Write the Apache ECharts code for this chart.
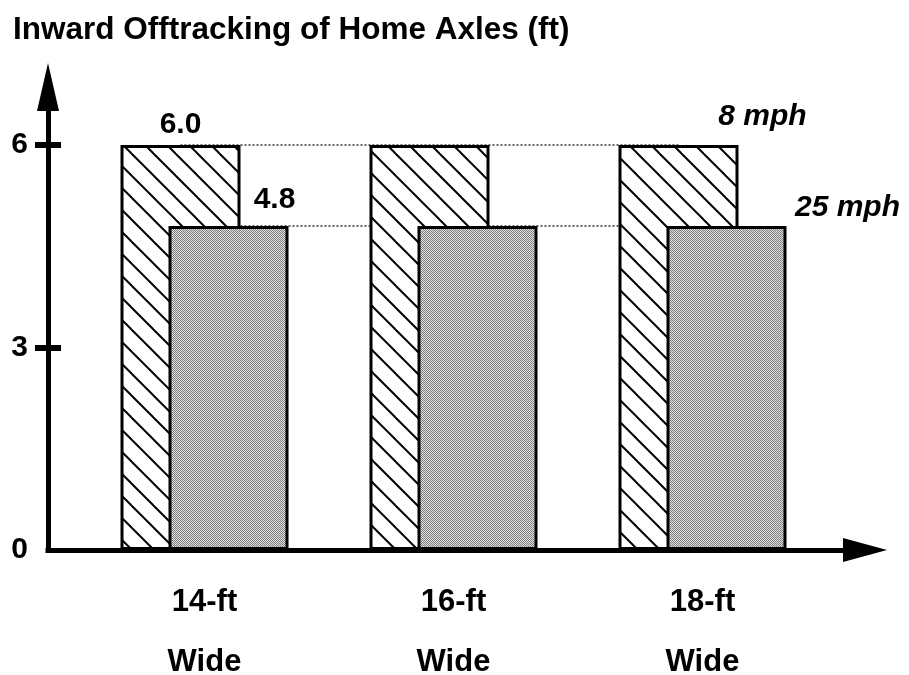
<!DOCTYPE html>
<html><head><meta charset="utf-8">
<script src="https://cdn.jsdelivr.net/npm/echarts@6/dist/echarts.min.js"></script>
<style>html,body{margin:0;padding:0;background:#fff}#c{width:909px;height:675px}</style>
</head><body><div id="c"></div>
<script>
const titleText = 'Inward Offtracking of Home Axles (ft)';
const categories = ['14-ft\nWide', '16-ft\nWide', '18-ft\nWide'];
const seriesNames = ['8 mph', '25 mph'];
const eightMph = [6.0, 6.0, 6.0];
const twentyFiveMph = [4.8, 4.8, 4.8];
const yTickLabels = [0, 3, 6];

const FF = '"Liberation Sans", Arial, Helvetica, sans-serif';

function hatchPattern() {
  const c = document.createElement('canvas');
  c.width = 22; c.height = 22;
  const g = c.getContext('2d');
  g.fillStyle = '#fff'; g.fillRect(0, 0, 22, 22);
  g.strokeStyle = '#000'; g.lineWidth = 2;
  for (const k of [-22, 0, 22]) {
    g.beginPath(); g.moveTo(k - 3, -3); g.lineTo(k + 25, 25); g.stroke();
  }
  return c;
}
function stipplePattern() {
  const c = document.createElement('canvas');
  c.width = 4; c.height = 4;
  const g = c.getContext('2d');
  for (let y = 0; y < 4; y++) for (let x = 0; x < 4; x++) {
    g.fillStyle = ((x + y) % 2) ? '#e2e2e2' : '#7c7c7c';
    g.fillRect(x, y, 1, 1);
  }
  return c;
}

const txt = { fontFamily: FF, fontWeight: 'bold', color: '#000' };

function labelsFor(seriesIdx) {
  return function (v, i) {
    let label = { show: false };
    if (i === 0) {
      label = Object.assign({ show: true, position: 'top', fontSize: 30,
        formatter: p => Number(p.value).toFixed(1) }, txt,
        seriesIdx === 0 ? { distance: 5 } : { distance: 11, offset: [46, 0] });
    } else if (i === categories.length - 1) {
      label = Object.assign({ show: true, position: 'top', fontSize: 30, fontStyle: 'italic',
        formatter: p => p.seriesName }, txt,
        seriesIdx === 0 ? { distance: 13, offset: [84, 0] } : { distance: 3, offset: [121, 0] });
    }
    return { value: v, label: label };
  };
}

const axisLineStyle = { color: '#000', width: 5, cap: 'square' };
const tickStyle = { color: '#000', width: 6 };
const gridBase = { top: 77.5, bottom: 125, containLabel: false, outerBoundsMode: 'none' };

const chart = echarts.init(document.getElementById('c'), null, { renderer: 'canvas' });
chart.setOption({
  animation: false,
  backgroundColor: '#fff',
  title: { text: titleText, left: 8, top: 9, textStyle: Object.assign({ fontSize: 31.5 }, txt) },
  grid: [
    Object.assign({ left: 80, right: 82 }, gridBase),
    Object.assign({ left: 48, right: 44 }, gridBase),
    Object.assign({ left: 48, right: 44 }, gridBase)
  ],
  xAxis: [
    { gridIndex: 0, type: 'category', data: categories,
      axisLine: { show: false }, axisTick: { show: false }, splitLine: { show: false },
      axisLabel: Object.assign({ fontSize: 31, lineHeight: 60, margin: 22 }, txt) },
    { gridIndex: 1, type: 'value', min: 0, max: 1,
      axisLine: { show: true, onZero: false, lineStyle: axisLineStyle,
        symbol: ['none', 'triangle'], symbolSize: [24, 44], symbolOffset: [0, 0] },
      axisTick: { show: false }, axisLabel: { show: false }, splitLine: { show: false } },
    { gridIndex: 2, type: 'value', min: 0, max: 1, show: false }
  ],
  yAxis: [
    { gridIndex: 0, type: 'value', min: 0, max: 7, show: false },
    { gridIndex: 1, type: 'value', min: 0, max: 7, interval: 3,
      axisLine: { show: true, onZero: false, lineStyle: axisLineStyle,
        symbol: ['none', 'triangle'], symbolSize: [22, 48], symbolOffset: [0, -9.5] },
      axisTick: { show: true, length: 13, lineStyle: tickStyle,
        customValues: yTickLabels.filter(v => v > 0) },
      axisLabel: Object.assign({ fontSize: 30, margin: 20, customValues: yTickLabels }, txt),
      splitLine: { show: false } },
    { gridIndex: 2, type: 'value', min: 0, max: 7, interval: 3,
      axisLine: { show: false },
      axisTick: { show: true, inside: true, length: 13, lineStyle: tickStyle,
        customValues: yTickLabels.filter(v => v > 0) },
      axisLabel: { show: false }, splitLine: { show: false } }
  ],
  series: [
    { type: 'bar', name: seriesNames[0], xAxisIndex: 0, yAxisIndex: 0,
      barWidth: 120, barGap: '-60%', z: 2,
      itemStyle: { color: { image: hatchPattern(), repeat: 'repeat' }, borderColor: '#000', borderWidth: 3 },
      data: eightMph.map(labelsFor(0)),
      markLine: { silent: true, z: 1, symbol: ['none', 'none'], label: { show: false },
        lineStyle: { type: [2, 2], color: '#666', width: 2 },
        data: [
          [{ coord: [0, eightMph[0]] }, { coord: [categories.length - 1, eightMph[2]] }],
          [{ coord: [0, twentyFiveMph[0]] }, { coord: [categories.length - 1, twentyFiveMph[2]] }]
        ] } },
    { type: 'bar', name: seriesNames[1], xAxisIndex: 0, yAxisIndex: 0,
      barWidth: 120, barGap: '-60%', z: 2,
      itemStyle: { color: { image: stipplePattern(), repeat: 'repeat' }, borderColor: '#000', borderWidth: 3 },
      data: twentyFiveMph.map(labelsFor(1)) }
  ]
});
</script>
</body></html>
